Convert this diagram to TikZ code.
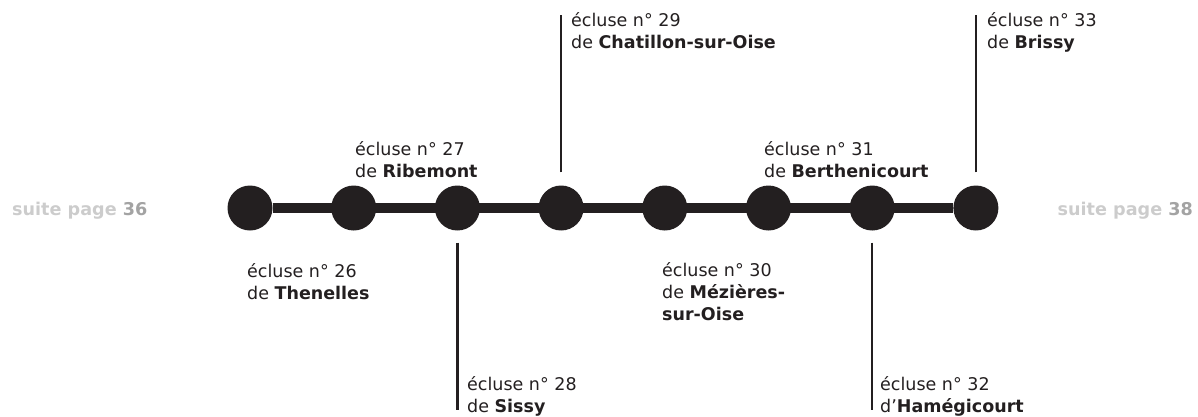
\documentclass[tikz,border=0pt]{standalone}
\usepackage{fontspec}
\setmainfont{DejaVu Sans}
\definecolor{ink}{HTML}{231F20}
\definecolor{suitegray}{HTML}{CCCCCC}
\definecolor{numgray}{HTML}{A3A3A3}
\begin{document}
\begin{tikzpicture}[x=1pt,y=-1pt]

    \tikzset{
      lock/.style={
        circle,
        fill=ink,
        inner sep=0pt,
        minimum size=45pt,
      },
      locktext/.style={
        anchor=base west,
        align=left,
        inner sep=0pt,
        text=ink,
        font=\fontsize{17.5}{22}\selectfont,
      },
      suite/.style={
        inner sep=0pt,
        text=suitegray,
        font=\fontsize{17.6}{20}\selectfont\bfseries,
      },
      stem/.style={draw=ink, line width=2.5pt},
    }
    \useasboundingbox (0,0) rectangle (1198,416);
    % the locks on the canal
    \foreach \n [count=\i from 0] in {26,...,33}
      \node[lock] (c\n) at (250+103.7*\i,208) {};
    \draw[ink, line width=10pt] (c26) -- (c33);

    % names of the locks (placed by the baseline of their last line)
    \node[locktext] (t26) at (247,299) {écluse n° 26\\de \textbf{Thenelles}};
    \node[locktext] (t27) at (355,177) {écluse n° 27\\de \textbf{Ribemont}};
    \node[locktext] (t28) at (467,412) {écluse n° 28\\de \textbf{Sissy}};
    \node[locktext] (t29) at (571,48) {écluse n° 29\\de \textbf{Chatillon-sur-Oise}};
    \node[locktext] (t30) at (662,320) {écluse n° 30\\de \textbf{Mézières-}\\\textbf{sur-Oise}};
    \node[locktext] (t31) at (764,177) {écluse n° 31\\de \textbf{Berthenicourt}};
    \node[locktext] (t32) at (880,412) {écluse n° 32\\d’\textbf{Hamégicourt}};
    \node[locktext] (t33) at (987,48) {écluse n° 33\\de \textbf{Brissy}};

    % stems from the locks to their names
    \coordinate (e28) at (c28 |- 0,410);
    \coordinate (e29) at (c29 |- 0,15);
    \coordinate (e32) at (c32 |- 0,410);
    \coordinate (e33) at (c33 |- 0,15);
    \draw[stem] ([yshift=-12pt]c28.south) -- (e28);
    \draw[stem] ([yshift=13pt]c29.north) -- (e29);
    \draw[stem] ([yshift=-12pt]c32.south) -- (e32);
    \draw[stem] ([yshift=13pt]c33.north) -- (e33);

    \node[suite, anchor=base west] (prev) at (12,215) {suite page \textcolor{numgray}{36}};
    \node[suite, anchor=base east] (next) at (1193,215) {suite page \textcolor{numgray}{38}};

\end{tikzpicture}
\end{document}
